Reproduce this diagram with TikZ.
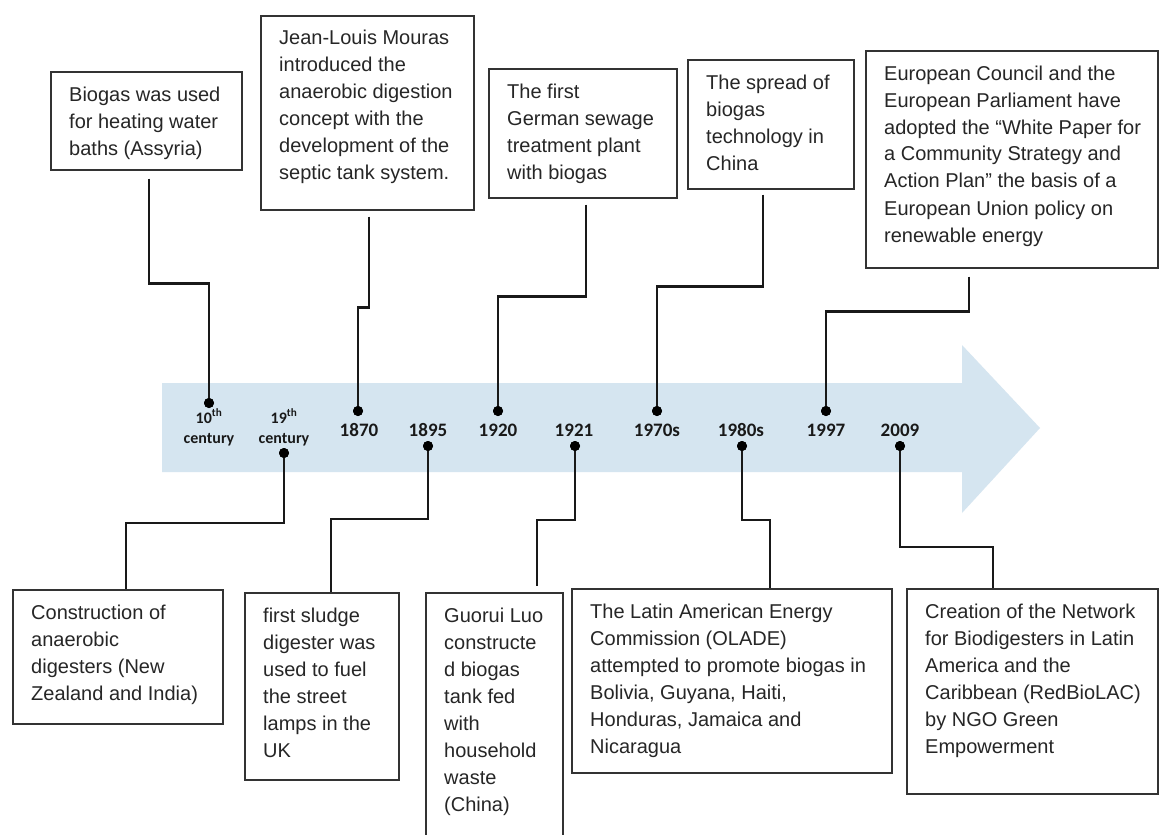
\documentclass[tikz,border=0pt]{standalone}
\usepackage{fontspec}
\setmainfont{Liberation Sans}
\newfontfamily\calibrifont{Carlito}
\definecolor{arrowblue}{RGB}{213,229,240}
\begin{document}
\begin{tikzpicture}[x=1pt,y=-1pt,
  tbox/.style={draw=black!80, line width=1.5pt, fill=white, inner sep=0pt, anchor=north west},
  btxt/.style={inner sep=0pt, anchor=base west, text=black!85, font=\fontsize{20}{27}\selectfont},
  conn/.style={draw=black!90, line width=2.4pt},
  tdot/.style={circle, fill=black, inner sep=0pt, minimum size=10pt},
  yr/.style={anchor=base, inner sep=0pt, text=black!90, font=\calibrifont\bfseries\fontsize{19}{22}\selectfont},
  cent/.style={anchor=base, inner sep=0pt, text=black!90, font=\calibrifont\bfseries\fontsize{16}{20}\selectfont}]
\fill[white] (0,0) rectangle (1160,835);
\useasboundingbox (0,0) rectangle (1160,835);

% timeline arrow
\fill[arrowblue] (162,383) -- (962,383) -- (962,345) -- (1040,428) -- (962,513) -- (962,472) -- (162,472) -- cycle;

% boxes
\node[tbox, minimum width=191pt, minimum height=98pt] (b1) at (50,71) {};
\node[tbox, minimum width=213pt, minimum height=194pt] (b2) at (260,15) {};
\node[tbox, minimum width=188pt, minimum height=129pt] (b3) at (488,68) {};
\node[tbox, minimum width=166pt, minimum height=129pt] (b4) at (687,59) {};
\node[tbox, minimum width=292pt, minimum height=217pt] (b5) at (865,50) {};
\node[tbox, minimum width=210pt, minimum height=134pt] (b6) at (12,589) {};
\node[tbox, minimum width=154pt, minimum height=187pt] (b7) at (244,592) {};
\node[tbox, minimum width=137pt, minimum height=253pt] (b8) at (425,592) {};
\node[tbox, minimum width=320pt, minimum height=184pt] (b9) at (571,588) {};
\node[tbox, minimum width=251pt, minimum height=205pt] (b10) at (906,588) {};

% box texts
\node[btxt] (b1t) at ([xshift=19pt,yshift=-30pt]b1.north west) {\parbox[t]{290pt}{Biogas was used\\for heating water\\baths (Assyria)}};
\node[btxt] (b2t) at ([xshift=19pt,yshift=-30pt]b2.north west) {\parbox[t]{290pt}{Jean-Louis Mouras\\introduced the\\anaerobic digestion\\concept with the\\development of the\\septic tank system.}};
\node[btxt] (b3t) at ([xshift=19pt,yshift=-30pt]b3.north west) {\parbox[t]{290pt}{The first\\German sewage\\treatment plant\\with biogas}};
\node[btxt] (b4t) at ([xshift=19pt,yshift=-30pt]b4.north west) {\parbox[t]{290pt}{The spread of\\biogas\\technology in\\China}};
\node[btxt] (b5t) at ([xshift=19pt,yshift=-30pt]b5.north west) {\parbox[t]{290pt}{European Council and the\\European Parliament have\\adopted the “White Paper for\\a Community Strategy and\\Action Plan” the basis of a\\European Union policy on\\renewable energy}};
\node[btxt] (b6t) at ([xshift=19pt,yshift=-30pt]b6.north west) {\parbox[t]{290pt}{Construction of\\anaerobic\\digesters (New\\Zealand and India)}};
\node[btxt] (b7t) at ([xshift=19pt,yshift=-30pt]b7.north west) {\parbox[t]{290pt}{first sludge\\digester was\\used to fuel\\the street\\lamps in the\\UK}};
\node[btxt] (b8t) at ([xshift=19pt,yshift=-30pt]b8.north west) {\parbox[t]{290pt}{Guorui Luo\\constructe\\d biogas\\tank fed\\with\\household\\waste\\(China)}};
\node[btxt] (b9t) at ([xshift=19pt,yshift=-30pt]b9.north west) {\parbox[t]{300pt}{The Latin American Energy\\Commission (OLADE)\\attempted to promote biogas in\\Bolivia, Guyana, Haiti,\\Honduras, Jamaica and\\Nicaragua}};
\node[btxt] (b10t) at ([xshift=19pt,yshift=-30pt]b10.north west) {\parbox[t]{290pt}{Creation of the Network\\for Biodigesters in Latin\\America and the\\Caribbean (RedBioLAC)\\by NGO Green\\Empowerment}};

% dots on the timeline
\node[tdot] (d10) at (209,403) {};
\node[tdot] (d19) at (284,453) {};
\node[tdot] (d1870) at (358,411) {};
\node[tdot] (d1895) at (428,446) {};
\node[tdot] (d1920) at (498,411) {};
\node[tdot] (d1921) at (575,446) {};
\node[tdot] (d1970) at (657,411) {};
\node[tdot] (d1980) at (742,446) {};
\node[tdot] (d1997) at (826,411) {};
\node[tdot] (d2009) at (900,446) {};

% labels
\node[cent] (l10) at (209,423) {\begin{tabular}[t]{@{}c@{}}10\textsuperscript{th}\\century\end{tabular}};
\node[cent] (l19) at (284,423) {\begin{tabular}[t]{@{}c@{}}19\textsuperscript{th}\\century\end{tabular}};
\node[yr] (l1870) at (359,436) {1870};
\node[yr] (l1895) at (428,436) {1895};
\node[yr] (l1920) at (498,436) {1920};
\node[yr] (l1921) at (574,436) {1921};
\node[yr] (l1970) at (657,436) {1970s};
\node[yr] (l1980) at (741,436) {1980s};
\node[yr] (l1997) at (826,436) {1997};
\node[yr] (l2009) at (900,436) {2009};

% connector ends at the boxes
\coordinate (e1) at ([xshift=99pt,yshift=-8pt]b1.south west);
\coordinate (e2) at ([xshift=109pt,yshift=-6pt]b2.south west);
\coordinate (e3) at ([xshift=98pt,yshift=-6pt]b3.south west);
\coordinate (e4) at ([xshift=76pt,yshift=-5pt]b4.south west);
\coordinate (e5) at ([xshift=104pt,yshift=-8pt]b5.south west);
\coordinate (e6) at ([xshift=114pt]b6.north west);
\coordinate (e7) at ([xshift=87pt]b7.north west);
\coordinate (e8) at ([xshift=112pt,yshift=6pt]b8.north west);
\coordinate (e9) at ([xshift=199pt]b9.north west);
\coordinate (e10) at ([xshift=87pt]b10.north west);

% connectors
\draw[conn] (e1) -- ++(0,105) -| (d10.center);
\draw[conn] (e2) -- ++(0,91) -| (d1870.center);
\draw[conn] (e3) -- ++(0,92) -| (d1920.center);
\draw[conn] (e4) -- ++(0,92) -| (d1970.center);
\draw[conn] (e5) -- ++(0,35) -| (d1997.center);
\draw[conn] (d19.center) -- ++(0,70) -| (e6);
\draw[conn] (d1895.center) -- ++(0,73) -| (e7);
\draw[conn] (d1921.center) -- ++(0,74) -| (e8);
\draw[conn] (d1980.center) -- ++(0,74) -| (e9);
\draw[conn] (d2009.center) -- ++(0,101) -| (e10);

% redraw dots on top
\foreach \d in {d10,d19,d1870,d1895,d1920,d1921,d1970,d1980,d1997,d2009}
  \fill[black] (\d.center) circle (5pt);
\end{tikzpicture}
\end{document}
